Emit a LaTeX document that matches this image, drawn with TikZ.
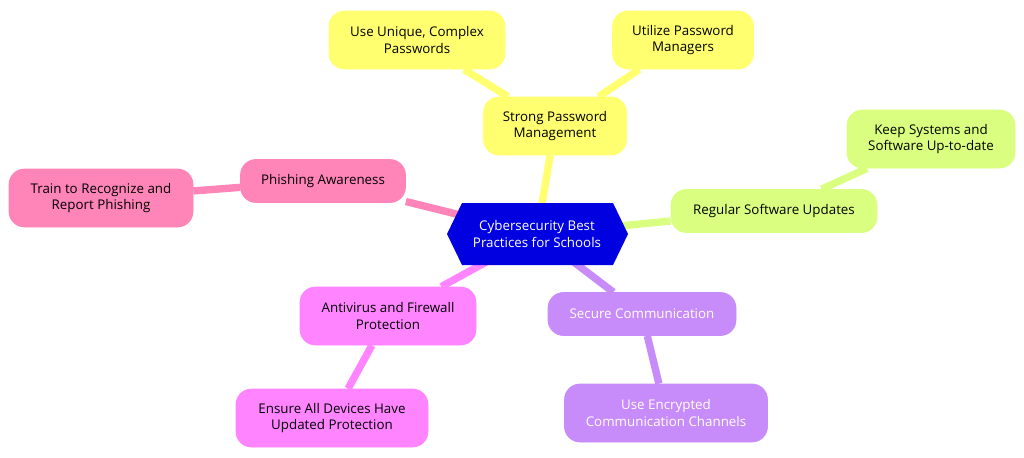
\documentclass[tikz,border=0pt]{standalone}
\usepackage{fontspec}
\setmainfont{Open Sans}
\usetikzlibrary{shapes.geometric}
\definecolor{cyblue}{RGB}{0,0,225}
\definecolor{pwyellow}{RGB}{255,255,112}
\definecolor{upgreen}{RGB}{218,255,128}
\definecolor{phpink}{RGB}{255,132,184}
\definecolor{avpink}{RGB}{255,132,255}
\definecolor{scpurple}{RGB}{200,140,250}
\tikzset{
  topic/.style={rounded corners=9pt,align=center,inner sep=0pt,font=\fontsize{7.6}{9.4}\selectfont},
  link/.style={line width=4.2pt},
}
\begin{document}
\begin{tikzpicture}[x=0.02cm,y=-0.02cm]
	%frame
	\useasboundingbox (0,0) rectangle (1024,457);

	%nodes
	\node[topic,fill=pwyellow,minimum width=143*0.02cm,minimum height=58*0.02cm] (spm) at (555,126) {Strong Password\\Management};
	\node[topic,fill=pwyellow,minimum width=176*0.02cm,minimum height=58*0.02cm] (uuc) at (417,40) {Use Unique, Complex\\Passwords};
	\node[topic,fill=pwyellow,minimum width=141*0.02cm,minimum height=58*0.02cm] (upm) at (683,40) {Utilize Password\\Managers};
	\node[topic,fill=upgreen,minimum width=206*0.02cm,minimum height=43*0.02cm] (rsu) at (774,211) {Regular Software Updates};
	\node[topic,fill=upgreen,minimum width=168*0.02cm,minimum height=58*0.02cm] (ksu) at (931,139) {Keep Systems and\\Software Up-to-date};
	\node[topic,fill=phpink,minimum width=165*0.02cm,minimum height=43*0.02cm] (pha) at (323,181) {Phishing Awareness};
	\node[topic,fill=phpink,minimum width=184*0.02cm,minimum height=58*0.02cm] (trp) at (101,198) {Train to Recognize and\\Report Phishing};
	\node[topic,fill=avpink,minimum width=176*0.02cm,minimum height=58*0.02cm] (afp) at (388,316) {Antivirus and Firewall\\Protection};
	\node[topic,fill=avpink,minimum width=192*0.02cm,minimum height=58*0.02cm] (eau) at (332,418) {Ensure All Devices Have\\Updated Protection};
	\node[topic,fill=scpurple,text=white,minimum width=188*0.02cm,minimum height=43*0.02cm] (scc) at (642,314) {Secure Communication};
	\node[topic,fill=scpurple,text=white,minimum width=203*0.02cm,minimum height=58*0.02cm] (uec) at (666,413) {Use Encrypted\\Communication Channels};

	%connectors
	\begin{scope}[on background layer/.style={}]
	\end{scope}
	\draw[link,pwyellow] (spm) -- (uuc);
	\draw[link,pwyellow] (spm) -- (upm);
	\draw[link,upgreen] (rsu) -- (ksu);
	\draw[link,phpink] (pha) -- (trp);
	\draw[link,avpink] (afp) -- (eau);
	\draw[link,scpurple] (scc) -- (uec);
	\coordinate (hub) at (537,234);
	\draw[link,pwyellow] (hub) -- (spm);
	\draw[link,upgreen] (hub) -- (rsu);
	\draw[link,phpink] (hub) -- (pha);
	\draw[link,avpink] (hub) -- (afp);
	\draw[link,scpurple] (hub) -- (scc);

	%redraw topics over the links
	\foreach \n/\c in {spm/pwyellow,uuc/pwyellow,upm/pwyellow,rsu/upgreen,ksu/upgreen,pha/phpink,trp/phpink,afp/avpink,eau/avpink,scc/scpurple,uec/scpurple}
	  \fill[\c,rounded corners=9pt] (\n.south west) rectangle (\n.north east);
	\node[topic] at (spm) {Strong Password\\Management};
	\node[topic] at (uuc) {Use Unique, Complex\\Passwords};
	\node[topic] at (upm) {Utilize Password\\Managers};
	\node[topic] at (rsu) {Regular Software Updates};
	\node[topic] at (ksu) {Keep Systems and\\Software Up-to-date};
	\node[topic] at (pha) {Phishing Awareness};
	\node[topic] at (trp) {Train to Recognize and\\Report Phishing};
	\node[topic] at (afp) {Antivirus and Firewall\\Protection};
	\node[topic] at (eau) {Ensure All Devices Have\\Updated Protection};
	\node[topic,text=white] at (scc) {Secure Communication};
	\node[topic,text=white] at (uec) {Use Encrypted\\Communication Channels};

	%central hexagon
	\fill[cyblue] (447,234) -- (462,203) -- (613,203) -- (628,234) -- (613,265) -- (462,265) -- cycle;
	\node[topic,text=white] (cbp) at (hub) {Cybersecurity Best\\Practices for Schools};
\end{tikzpicture}
\end{document}
